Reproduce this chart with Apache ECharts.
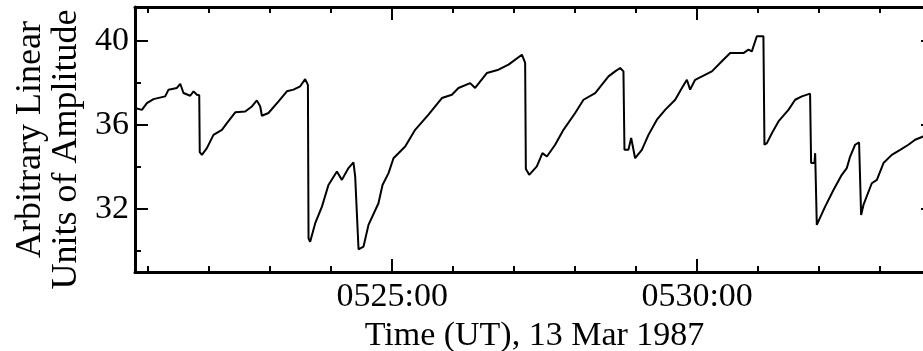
<!DOCTYPE html>
<html>
<head>
<meta charset="utf-8">
<script src="https://cdn.jsdelivr.net/npm/echarts@6/dist/echarts.min.js"></script>
<style>
html,body{margin:0;padding:0;background:#fff;}
#chart{width:923px;height:351px;}
</style>
</head>
<body>
<div id="chart"></div>
<script>
// time in seconds after 05:00:00 UT, 13 Mar 1987
const timeSec = [
1247.2,1253.8,1258.7,1265.2,1276.7,1280.0,1288.2,1291.5,1294.7,1301.3,1304.6,1307.9,1310.2,
1310.7,1312.8,1317.7,1324.2,1332.5,1337.4,1345.6,1355.4,1362.0,1366.9,1370.2,1371.8,1378.3,
1388.2,1396.4,1402.9,1409.5,1414.4,1417.1,
1417.7,1419.3,1424.3,1430.9,1437.3,1445.6,1450.5,1457.0,1461.9,1463.6,
1466.9,1471.8,1476.7,1486.5,1490.5,1496.4,1501.3,1512.8,1522.6,1535.7,1548.9,1558.7,1565.2,
1576.7,1581.6,1593.1,1604.6,1614.4,1627.6,1630.8,
1631.5,1634.8,1642.3,1647.8,1652.2,1660.3,1668.5,1680.0,1688.2,1699.7,1712.8,1719.3,1724.3,1727.5,
1728.5,1732.4,1735.1,1739.0,1745.6,1752.1,1760.4,1768.5,1778.4,1785.0,1789.9,1793.1,1798.0,
1814.5,1824.3,1832.5,1845.5,1850.5,1853.8,1858.7,1865.2,
1866.2,1868.6,1873.5,1880.0,1889.8,1896.4,1903.0,1911.1,
1912.1,1915.4,1916.1,1917.7,1919.3,1925.9,1934.1,1942.3,1947.2,1950.5,1955.4,1959.3,
1961.3,1963.6,1971.8,1976.8,1983.3,1991.5,1999.7,2007.8,2014.4,2022.3,2033.0
];
const amplitude = [
36.80,36.71,37.03,37.22,37.35,37.67,37.75,37.95,37.51,37.38,37.59,37.43,37.40,
34.70,34.57,34.89,35.52,35.76,36.08,36.59,36.63,36.87,37.16,36.87,36.43,36.56,
37.11,37.59,37.67,37.83,38.17,37.90,
30.60,30.44,31.32,32.11,33.14,33.78,33.38,33.94,34.21,33.54,
30.08,30.21,31.24,32.27,33.14,33.70,34.41,34.97,35.76,36.48,37.27,37.43,37.75,
37.98,37.75,38.46,38.62,38.86,39.33,38.94,
33.90,33.62,34.02,34.65,34.49,35.05,35.76,36.56,37.19,37.51,38.30,38.54,38.70,38.54,
34.81,34.81,35.37,34.41,34.81,35.52,36.24,36.71,37.19,37.75,38.14,37.67,38.14,
38.54,39.02,39.41,39.41,39.57,39.49,40.21,40.21,
35.05,35.13,35.60,36.16,36.71,37.19,37.35,37.48,
34.18,34.18,34.65,31.24,31.32,32.11,32.90,33.62,33.94,34.49,35.05,35.16,
31.71,32.19,33.22,33.38,34.18,34.57,34.81,35.05,35.29,35.44,35.60
];
const xTickLabels = { 1500: '0525:00', 1800: '0530:00' };
const yTickLabels = { 32: '32', 36: '36', 40: '40' };

const FONT = 'Liberation Serif';
const tickCommon = (len) => ({ show: true, inside: true, length: len, lineStyle: { color: '#000', width: 2 } });
const lineCommon = { show: true, onZero: false, lineStyle: { color: '#000', width: 3 } };

const xBase = {
  type: 'value', min: 1247, max: 2033, minInterval: 300, maxInterval: 300,
  axisLine: lineCommon, axisTick: tickCommon(13),
  minorTick: { show: true, splitNumber: 5, length: 6, lineStyle: { color: '#000', width: 2 } },
  splitLine: { show: false }
};
const yBase = {
  type: 'value', min: 29, max: 41.6, minInterval: 4, maxInterval: 4,
  axisLine: lineCommon, axisTick: tickCommon(13),
  minorTick: { show: true, splitNumber: 2, length: 6, lineStyle: { color: '#000', width: 2 } },
  splitLine: { show: false }
};

const chart = echarts.init(document.getElementById('chart'), null, { renderer: 'canvas' });
chart.setOption({
  animation: false,
  backgroundColor: '#fff',
  grid: { left: 135, right: -11, top: 7, bottom: 79, containLabel: false, outerBoundsMode: 'none' },
  xAxis: [
    Object.assign({}, xBase, {
      position: 'bottom',
      name: 'Time (UT), 13 Mar 1987', nameLocation: 'middle', nameGap: 41,
      nameTextStyle: { fontFamily: FONT, fontSize: 34, color: '#000' },
      axisLabel: { show: true, margin: 8, fontFamily: FONT, fontSize: 34, color: '#000',
        showMinLabel: false, showMaxLabel: false,
        formatter: v => xTickLabels[Math.round(v)] || '' }
    }),
    Object.assign({}, xBase, { position: 'top', axisLabel: { show: false } })
  ],
  yAxis: [
    Object.assign({}, yBase, {
      position: 'left',
      name: '{a|Arbitrary Linear}\n{b|Units of Amplitude}', nameLocation: 'middle', nameGap: 46,
      nameTextStyle: { fontFamily: FONT, fontSize: 36, color: '#000', lineHeight: 36,
        rich: {
          a: { fontFamily: FONT, fontSize: 36, lineHeight: 36, color: '#000' },
          b: { fontFamily: FONT, fontSize: 36, lineHeight: 36, color: '#000', padding: [0, 20, 0, 0] }
        } },
      axisLabel: { show: true, margin: 6, fontFamily: FONT, fontSize: 34, color: '#000',
        showMinLabel: false, showMaxLabel: false,
        formatter: v => yTickLabels[Math.round(v * 100) / 100] || '' }
    }),
    Object.assign({}, yBase, { position: 'right', axisLabel: { show: false } })
  ],
  series: [{
    type: 'line',
    xAxisIndex: 0, yAxisIndex: 0,
    data: timeSec.map((t, i) => [t, amplitude[i]]),
    showSymbol: false, symbol: 'none',
    lineStyle: { color: '#000', width: 2 },
    smooth: false
  }]
});
</script>
</body>
</html>
